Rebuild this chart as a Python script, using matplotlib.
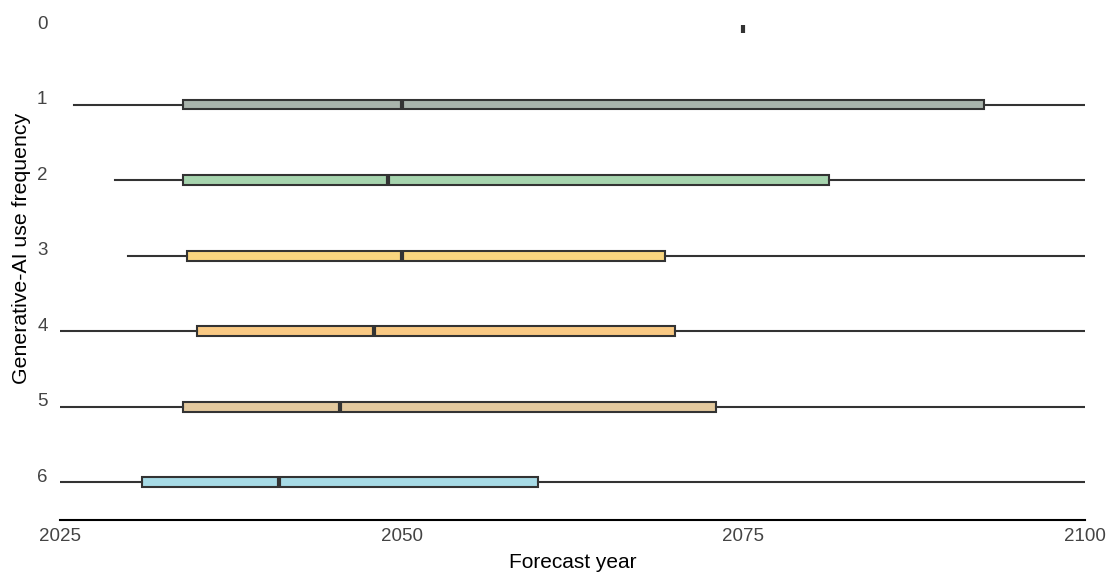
import numpy as np
import matplotlib.pyplot as plt
import matplotlib.transforms as mtransforms

plt.rcParams['font.family'] = ['Liberation Sans', 'DejaVu Sans']

# use-frequency groups (0 = top row)
groups = [0, 1, 2, 3, 4, 5, 6]
whis_lo = [2075, 2026, 2029, 2030, 2025, 2025, 2025]
q1      = [2075, 2034, 2034, 2034.3, 2035, 2034, 2031]
median  = [2075, 2050, 2049, 2050, 2048, 2045.5, 2041]
q3      = [2075, 2092.6, 2081.3, 2069.3, 2070, 2073, 2060]
whis_hi = [2075, 2100, 2100, 2100, 2100, 2100, 2100]
colors = ['#a9b4ac', '#a9b4ac', '#a6d4ae', '#f9d57f', '#f9c983', '#e3c99e', '#a7dbe6']

xticks = [2025, 2050, 2075, 2100]

fig = plt.figure(figsize=(11.09, 5.74), dpi=100)
ax = fig.add_axes([60 / 1109, 54 / 574, 1025 / 1109, 520 / 574])

stats = []
for i in range(len(groups)):
    stats.append(dict(whislo=whis_lo[i], q1=q1[i], med=median[i],
                      q3=q3[i], whishi=whis_hi[i], fliers=[]))

bp = ax.bxp(stats, positions=groups, vert=False, widths=0.13,
            patch_artist=True, showcaps=False,
            boxprops=dict(edgecolor='#333333', linewidth=1.5),
            whiskerprops=dict(color='#333333', linewidth=1.5),
            medianprops=dict(color='#333333', linewidth=3, solid_capstyle='butt'))
for patch, c in zip(bp['boxes'], colors):
    patch.set_facecolor(c)
bp['boxes'][0].set_visible(False)
# single-value group: short median tick
bp['medians'][0].set_ydata([-0.05, 0.05])

ax.set_xlim(2025, 2100)
ax.set_ylim(6.5, -0.384)
ax.set_xticks(xticks)
ax.set_yticks(groups)
ax.set_yticklabels([str(g) for g in groups])
ax.tick_params(axis='both', length=0, labelsize=13.5, labelcolor='#444444')
ax.tick_params(axis='y', pad=9)
ax.tick_params(axis='x', pad=6)
# y labels sit slightly above their rows
offset = mtransforms.ScaledTranslation(0, 7 / 100, fig.dpi_scale_trans)
for lab in ax.get_yticklabels():
    lab.set_transform(lab.get_transform() + offset)

for s in ['left', 'right', 'top']:
    ax.spines[s].set_visible(False)
ax.spines['bottom'].set_linewidth(1.5)
ax.spines['bottom'].set_color('black')

ax.set_xlabel('Forecast year', fontsize=15)
ax.set_ylabel('Generative-AI use frequency', fontsize=15.3)
ax.xaxis.set_label_coords(0.5, -(562 - 520) / 520)
ax.yaxis.set_label_coords(-(60 - 22) / 1025, (520 - 248) / 520)
ax.xaxis.label.set_va('center')
ax.yaxis.label.set_va('center')

fig.savefig('out.png', dpi=100)
